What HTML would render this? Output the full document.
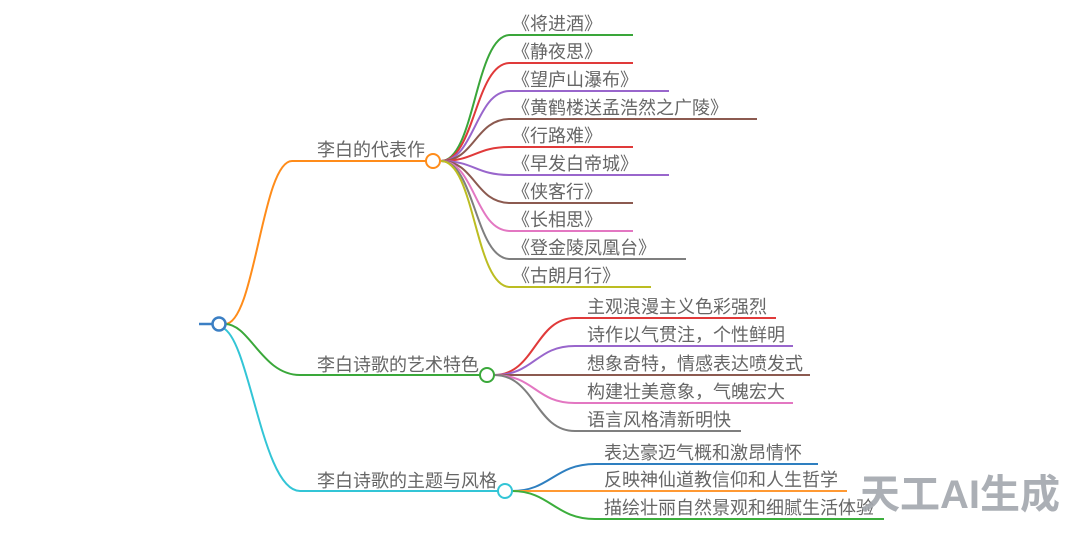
<!DOCTYPE html>
<html><head><meta charset="utf-8"><style>
html,body{margin:0;padding:0;background:#fff;}
svg{display:block}
text{font-family:"Liberation Sans","Noto Sans CJK SC",sans-serif;font-size:18px;fill:#666;}
</style></head><body>
<svg width="1080" height="533" viewBox="0 0 1080 533" xmlns="http://www.w3.org/2000/svg">
<g fill="none" stroke-width="2">
<line x1="199" y1="324" x2="213" y2="324" stroke="#3b7fc4" stroke-width="2.5"/>
<path d="M225,324 C255,324 262,161 292,161 L426,161" stroke="#ff8c1a"/>
<path d="M225,324 C250,324 262,375 300,375 L480,375" stroke="#3aa83a"/>
<path d="M223,328 C250,340 262,491 300,491 L498,491" stroke="#33c5d6"/>
<path d="M441,161 C475,161 475,35 510,35 L633,35" stroke="#3aa63a"/>
<path d="M441,161 C475,161 475,63 510,63 L633,63" stroke="#e03a3a"/>
<path d="M441,161 C475,161 475,91 510,91 L669,91" stroke="#9966cc"/>
<path d="M441,161 C475,161 475,119 510,119 L757,119" stroke="#8c5a50"/>
<path d="M441,161 C475,161 475,147 510,147 L633,147" stroke="#e03a3a"/>
<path d="M441,161 C475,161 475,175 510,175 L669,175" stroke="#9966cc"/>
<path d="M441,161 C475,161 475,203 510,203 L633,203" stroke="#8c5a50"/>
<path d="M441,161 C475,161 475,231 510,231 L633,231" stroke="#e377c2"/>
<path d="M441,161 C475,161 475,259 510,259 L686,259" stroke="#7f7f7f"/>
<path d="M441,161 C475,161 475,287 510,287 L651,287" stroke="#bcbd22"/>
<path d="M494,375 C535,375 535,318 575,318 L776,318" stroke="#e03a3a"/>
<path d="M494,375 C535,375 535,346 575,346 L793,346" stroke="#9966cc"/>
<path d="M494,375 L810,375" stroke="#8c5a50"/>
<path d="M494,375 C535,375 535,403 575,403 L793,403" stroke="#e377c2"/>
<path d="M494,375 C535,375 535,431 575,431 L741,431" stroke="#7f7f7f"/>
<path d="M512,491 C550,491 555,464 595,464 L818,464" stroke="#2e7fc0"/>
<path d="M512,491 L847,491" stroke="#ff9933"/>
<path d="M512,491 C550,491 555,519 595,519 L884,519" stroke="#3cae3c"/>
<circle cx="219" cy="324" r="6.5" stroke="#3b7fc4" fill="#fff" stroke-width="2.5"/>
<circle cx="433" cy="161" r="7" stroke="#ff8c1a" fill="#fff"/>
<circle cx="487" cy="375" r="7" stroke="#3aa83a" fill="#fff"/>
<circle cx="505" cy="491" r="7" stroke="#33c5d6" fill="#fff"/>
</g>
<text x="317" y="156">李白的代表作</text>
<text x="317" y="371">李白诗歌的艺术特色</text>
<text x="317" y="487">李白诗歌的主题与风格</text>
<g>
<text x="512" y="30">《将进酒》</text>
<text x="512" y="58">《静夜思》</text>
<text x="512" y="86">《望庐山瀑布》</text>
<text x="512" y="114">《黄鹤楼送孟浩然之广陵》</text>
<text x="512" y="142">《行路难》</text>
<text x="512" y="170">《早发白帝城》</text>
<text x="512" y="198">《侠客行》</text>
<text x="512" y="226">《长相思》</text>
<text x="512" y="254">《登金陵凤凰台》</text>
<text x="512" y="282">《古朗月行》</text>
<text x="587" y="313">主观浪漫主义色彩强烈</text>
<text x="587" y="341">诗作以气贯注，个性鲜明</text>
<text x="587" y="370">想象奇特，情感表达喷发式</text>
<text x="587" y="398">构建壮美意象，气魄宏大</text>
<text x="587" y="426">语言风格清新明快</text>
<text x="604" y="459">表达豪迈气概和激昂情怀</text>
<text x="604" y="486">反映神仙道教信仰和人生哲学</text>
<text x="604" y="514">描绘壮丽自然景观和细腻生活体验</text>
</g>
<text x="860" y="508" style="font-size:40px;font-weight:bold;fill:#a3a7ad;opacity:0.9">天工AI生成</text>
</svg>
</body></html>
